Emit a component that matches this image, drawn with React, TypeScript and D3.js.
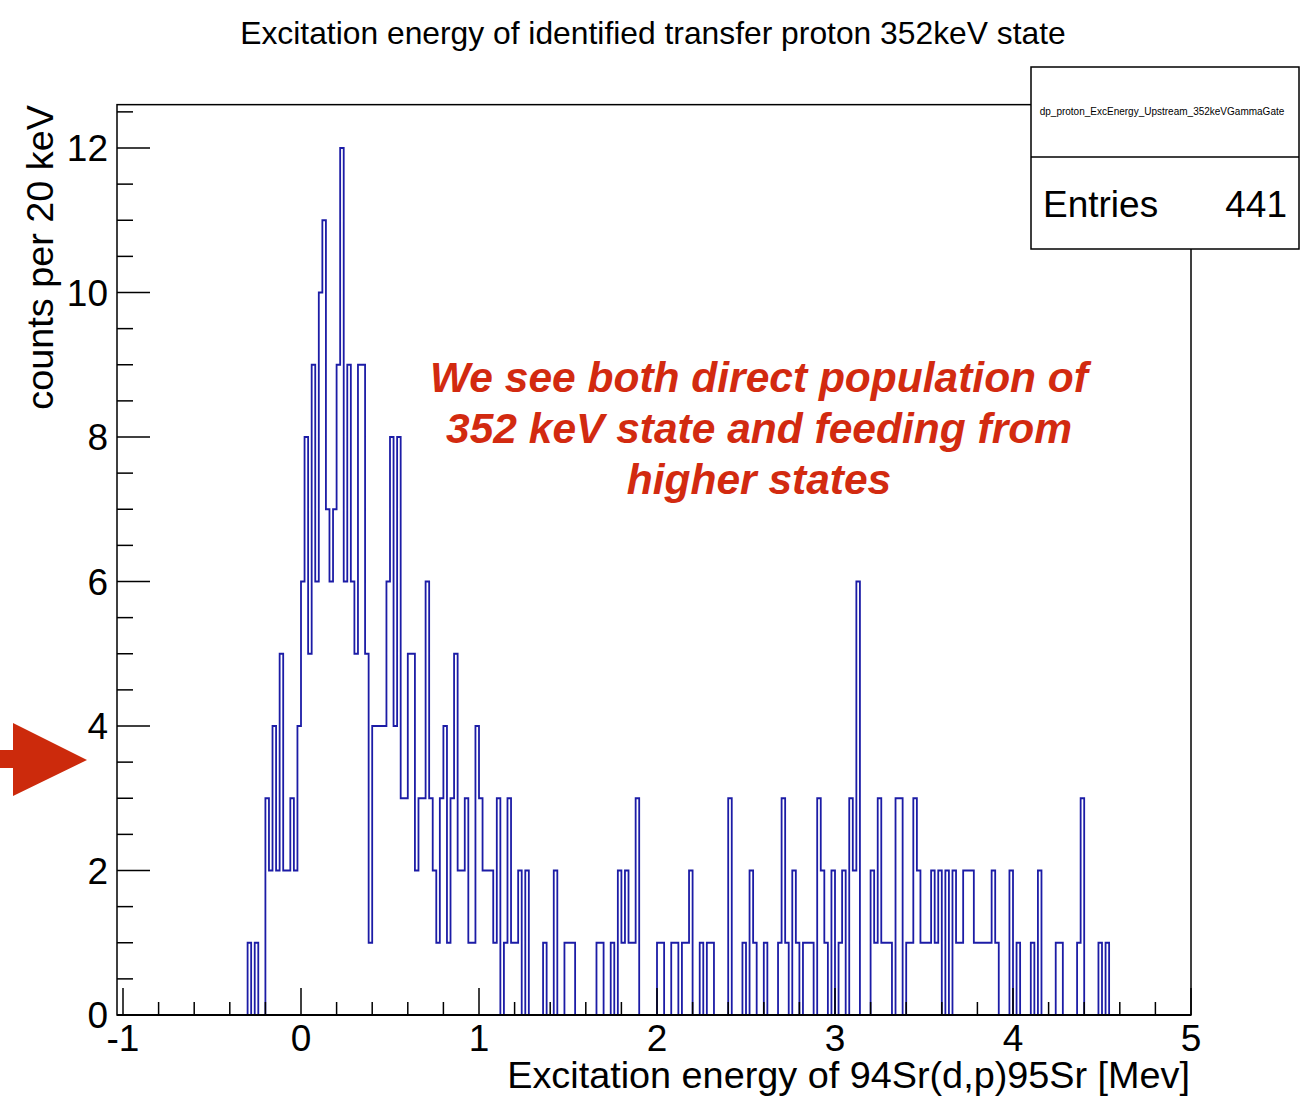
import React from "react";
import * as d3 from "d3";

// histogram contents: 300 bins of 20 keV from -1 to 5 MeV
const counts: number[] = [
  0, 0, 0, 0, 0, 0, 0, 0, 0, 0, 0, 0, 0, 0, 0, 0, 0, 0, 0, 0,
  0, 0, 0, 0, 0, 0, 0, 0, 0, 0, 0, 0, 0, 0, 0, 1, 0, 1, 0, 0,
  3, 2, 4, 2, 5, 2, 2, 3, 2, 4, 6, 8, 5, 9, 6, 10, 11, 7, 6, 7,
  9, 12, 6, 9, 6, 5, 9, 9, 5, 1, 4, 4, 4, 4, 6, 8, 4, 8, 3, 3,
  5, 5, 2, 3, 3, 6, 3, 2, 1, 3, 4, 1, 3, 5, 2, 2, 3, 1, 1, 4,
  3, 2, 2, 2, 1, 3, 0, 1, 3, 1, 1, 2, 0, 2, 0, 0, 0, 0, 1, 0,
  0, 2, 0, 0, 1, 1, 1, 0, 0, 0, 0, 0, 0, 1, 1, 0, 0, 1, 0, 2,
  1, 2, 1, 1, 3, 0, 0, 0, 0, 0, 1, 1, 0, 0, 1, 1, 0, 1, 1, 2,
  0, 0, 1, 0, 1, 1, 0, 0, 0, 0, 3, 0, 0, 0, 1, 0, 2, 1, 0, 0,
  1, 0, 0, 0, 1, 3, 1, 0, 2, 1, 0, 1, 1, 1, 0, 3, 2, 1, 0, 2,
  0, 1, 2, 0, 3, 2, 6, 0, 0, 0, 2, 1, 3, 1, 1, 1, 0, 3, 3, 0,
  1, 1, 3, 2, 1, 1, 1, 2, 1, 2, 0, 2, 0, 2, 1, 1, 2, 2, 2, 1,
  1, 1, 1, 1, 2, 1, 0, 0, 0, 2, 0, 1, 0, 0, 0, 1, 0, 2, 0, 0,
  0, 0, 1, 1, 0, 0, 0, 0, 1, 3, 0, 0, 0, 0, 1, 0, 1, 0, 0, 0,
  0, 0, 0, 0, 0, 0, 0, 0, 0, 0, 0, 0, 0, 0, 0, 0, 0, 0, 0, 0,
];
const binLow = -1;
const binWidth = 0.02;

const xDomain = [-1, 5];
const yDomain = [0, 12.6];
const xMajorTicks = [-1, 0, 1, 2, 3, 4, 5];
const xTickLabels = ["-1", "0", "1", "2", "3", "4", "5"];
const yMajorTicks = [0, 2, 4, 6, 8, 10, 12];
const yTickLabels = ["0", "2", "4", "6", "8", "10", "12"];

const titleText = "Excitation energy of identified transfer proton 352keV state";
const xTitle = "Excitation energy of 94Sr(d,p)95Sr [Mev]";
const yTitle = "counts per 20 keV";
const statsName = "dp_proton_ExcEnergy_Upstream_352keVGammaGate";
const statsLabel = "Entries";
const statsValue = "441";
const noteLines = [
  "We see both direct population of",
  "352 keV state and feeding from",
  "higher states",
];

const FONT = "'Liberation Sans', Arial, Helvetica, sans-serif";

export default function App() {
  const W = 1313;
  const H = 1107;
  const x = d3.scaleLinear().domain(xDomain).range([123, 1191]);
  const y = d3.scaleLinear().domain([0, 12]).range([1015, 148]);
  const frameL = 117;
  const frameR = x(xDomain[1]);
  const frameT = y(yDomain[1]);
  const frameB = y(0);

  const pts: [number, number][] = counts.map((c, i) => [binLow + i * binWidth, c]);
  pts.push([binLow + counts.length * binWidth, counts[counts.length - 1]]);
  const line = d3
    .line<[number, number]>()
    .x((d) => x(d[0]))
    .y((d) => y(d[1]))
    .curve(d3.curveStepAfter);

  const xMinor = d3.range(-1, 5.0001, 0.2).filter((v) => Math.abs(v - Math.round(v)) > 1e-6);
  const yMinor = d3.range(0, 12.6, 0.5).filter((v) => Math.abs(v / 2 - Math.round(v / 2)) > 1e-6);

  return (
    <svg
      width={W}
      height={H}
      style={{ position: "absolute", left: 0, top: 0, background: "#fff" }}
      fontFamily={FONT}
    >
      <rect x={0} y={0} width={W} height={H} fill="#fff" />
      <text x={653} y={44} fontSize={31.8} textAnchor="middle" fill="#000">
        {titleText}
      </text>

      {/* histogram */}
      <path d={line(pts) || ""} fill="none" stroke="#1c1ca6" strokeWidth={1.8} />

      {/* frame */}
      <rect
        x={frameL}
        y={frameT}
        width={frameR - frameL}
        height={frameB - frameT}
        fill="none"
        stroke="#000"
        strokeWidth={1.5}
      />
      <line x1={frameL} x2={frameR} y1={frameB} y2={frameB} stroke="#000" strokeWidth={2} />

      {/* x ticks */}
      {xMajorTicks.map((t, i) => (
        <g key={"xm" + i}>
          <line x1={x(t)} x2={x(t)} y1={frameB} y2={frameB - 27} stroke="#000" strokeWidth={1.5} />
          <text x={x(t)} y={1051} fontSize={37} textAnchor="middle" fill="#000">
            {xTickLabels[i]}
          </text>
        </g>
      ))}
      {xMinor.map((t, i) => (
        <line key={"xn" + i} x1={x(t)} x2={x(t)} y1={frameB} y2={frameB - 13} stroke="#000" strokeWidth={1.5} />
      ))}

      {/* y ticks */}
      {yMajorTicks.map((t, i) => (
        <g key={"ym" + i}>
          <line x1={frameL} x2={frameL + 33} y1={y(t)} y2={y(t)} stroke="#000" strokeWidth={1.5} />
          <text x={108} y={y(t)} dy="0.36em" fontSize={37} textAnchor="end" fill="#000">
            {yTickLabels[i]}
          </text>
        </g>
      ))}
      {yMinor.map((t, i) => (
        <line key={"yn" + i} x1={frameL} x2={frameL + 16} y1={y(t)} y2={y(t)} stroke="#000" strokeWidth={1.5} />
      ))}

      {/* axis titles */}
      <text x={1190} y={1088} fontSize={37.8} textAnchor="end" fill="#000">
        {xTitle}
      </text>
      <text transform="translate(53,105) rotate(-90)" fontSize={37.8} textAnchor="end" fill="#000">
        {yTitle}
      </text>

      {/* stats box */}
      <rect x={1031} y={67} width={268} height={182} fill="#fff" stroke="#000" strokeWidth={1.5} />
      <line x1={1031} x2={1299} y1={157} y2={157} stroke="#000" strokeWidth={1.5} />
      <text x={1162} y={115} fontSize={10} textAnchor="middle" fill="#000">
        {statsName}
      </text>
      <text x={1043} y={217} fontSize={37} fill="#000">
        {statsLabel}
      </text>
      <text x={1287} y={217} fontSize={37} textAnchor="end" fill="#000">
        {statsValue}
      </text>

      {/* annotation */}
      {noteLines.map((s, i) => (
        <text
          key={"n" + i}
          x={759}
          y={392 + i * 51}
          fontSize={42.5}
          fontWeight="bold"
          fontStyle="italic"
          textAnchor="middle"
          fill="#d22a10"
        >
          {s}
        </text>
      ))}

      {/* arrow */}
      <polygon
        points="0,750 13,750 13,723 87,760 13,796 13,768 0,768"
        fill="#cc2a0c"
      />
    </svg>
  );
}
